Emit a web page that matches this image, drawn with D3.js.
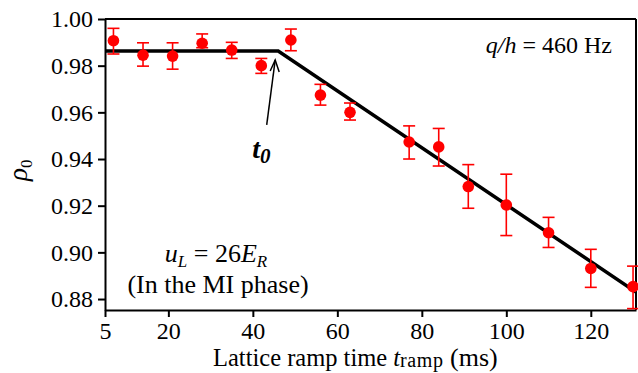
<!DOCTYPE html>
<html>
<head>
<meta charset="utf-8">
<script src="https://cdn.jsdelivr.net/npm/d3@7"></script>
<style>
  body { margin: 0; background: #fff; }
  svg text { font-family: "Liberation Serif", "Times New Roman", serif; fill: #000; }
</style>
</head>
<body>
<svg id="chart" width="638" height="373"></svg>
<script>
// measured points (ramp time in ms, rho_0 with error bars)
const tRamp = [7, 14, 21, 28, 35, 42, 49, 56, 63, 77, 84, 91, 100, 110, 120, 130];
const rho = [0.9907, 0.9845, 0.9841, 0.9896, 0.9867, 0.9800, 0.9910, 0.9674, 0.9600, 0.9473, 0.9452, 0.9282, 0.9203, 0.9084, 0.8931, 0.8853];
const errHi = [0.9960, 0.9898, 0.9898, 0.9936, 0.9900, 0.9831, 0.9957, 0.9720, 0.9640, 0.9542, 0.9531, 0.9376, 0.9335, 0.9150, 0.9013, 0.8941];
const errLo = [0.9850, 0.9798, 0.9785, 0.9877, 0.9831, 0.9767, 0.9864, 0.9631, 0.9567, 0.9400, 0.9370, 0.9189, 0.9072, 0.9021, 0.8850, 0.8759];

// piecewise fit line
const fitT = [5, 46, 130.7];
const fitRho = [0.9863, 0.9863, 0.8830];

const xTicks = [5, 20, 40, 60, 80, 100, 120];
const yTicks = [0.88, 0.90, 0.92, 0.94, 0.96, 0.98, 1.00];

const margin = {top: 19, right: 2, bottom: 63, left: 105},
      width = 638 - margin.left - margin.right,
      height = 373 - margin.top - margin.bottom;

const svg = d3.select("#chart");
const g = svg.append("g").attr("transform", `translate(${margin.left},${margin.top})`);

const x = d3.scaleLinear().domain([5, 130.7]).range([0, width]);
const y = d3.scaleLinear().domain([0.8753, 1.00]).range([height, 0]);

svg.append("defs").append("clipPath").attr("id", "clip")
  .append("rect").attr("width", width).attr("height", height);

// axes
const xAxis = g.append("g").attr("transform", `translate(0,${height})`)
  .call(d3.axisBottom(x).tickValues(xTicks).tickSize(7).tickSizeOuter(0).tickPadding(5).tickFormat(d3.format("d")));
const yAxis = g.append("g")
  .call(d3.axisLeft(y).tickValues(yTicks).tickSize(7).tickSizeOuter(0).tickPadding(5).tickFormat(d3.format(".2f")));

[xAxis, yAxis].forEach(a => {
  a.attr("font-family", null);
  a.selectAll("path, line").attr("stroke", "#000").attr("stroke-width", 2);
  a.selectAll("text").style("font-size", "24px");
});

// top and right frame
g.append("line").attr("x1", 0).attr("x2", width).attr("y1", 0).attr("y2", 0)
  .attr("stroke", "#000").attr("stroke-width", 2);
g.append("line").attr("x1", width).attr("x2", width).attr("y1", 0).attr("y2", height)
  .attr("stroke", "#000").attr("stroke-width", 2);

// fit line
g.append("path")
  .datum(fitT.map((t, i) => [t, fitRho[i]]))
  .attr("clip-path", "url(#clip)")
  .attr("fill", "none").attr("stroke", "#000").attr("stroke-width", 3.5)
  .attr("d", d3.line().x(d => x(d[0])).y(d => y(d[1])));

// error bars + points
const pts = tRamp.map((t, i) => ({t: t, r: rho[i], hi: errHi[i], lo: errLo[i]}));
const eb = g.append("g").attr("stroke", "#ff0000").attr("stroke-width", 1.6);
eb.selectAll(".v").data(pts).enter().append("line")
  .attr("x1", d => x(d.t)).attr("x2", d => x(d.t))
  .attr("y1", d => y(d.hi)).attr("y2", d => y(d.lo));
eb.selectAll(".ch").data(pts).enter().append("line")
  .attr("x1", d => x(d.t) - 6).attr("x2", d => x(d.t) + 6)
  .attr("y1", d => y(d.hi)).attr("y2", d => y(d.hi));
eb.selectAll(".cl").data(pts).enter().append("line")
  .attr("x1", d => x(d.t) - 6).attr("x2", d => x(d.t) + 6)
  .attr("y1", d => y(d.lo)).attr("y2", d => y(d.lo));
g.selectAll("circle").data(pts).enter().append("circle")
  .attr("cx", d => x(d.t)).attr("cy", d => y(d.r)).attr("r", 5.8)
  .attr("fill", "#ff0000");

// t0 arrow
const kx = x(fitT[1]), ky = y(fitRho[1]);
const ax = kx - 3, ay = ky + 9;
const bx = kx - 11.5, by = ky + 74;
g.append("line").attr("x1", bx).attr("y1", by).attr("x2", ax).attr("y2", ay)
  .attr("stroke", "#000").attr("stroke-width", 1.5);
g.append("path")
  .attr("d", `M${ax - 5},${ay + 11} L${ax},${ay} L${ax + 4},${ay + 12}`)
  .attr("fill", "none").attr("stroke", "#000").attr("stroke-width", 1.5);

const t0 = g.append("text").attr("x", kx - 26).attr("y", ky + 107)
  .style("font-size", "28px").style("font-weight", "bold").style("font-style", "italic");
t0.append("tspan").text("t");
t0.append("tspan").attr("dy", 5).style("font-size", "21px").text("0");

// q/h label
const qh = svg.append("text").attr("x", 612).attr("y", 53).attr("text-anchor", "end").style("font-size", "24px");
qh.append("tspan").style("font-style", "italic").text("q/h");
qh.append("tspan").text(" = 460 Hz");

// u_L annotation
const ul = svg.append("text").attr("x", 216).attr("y", 262).attr("text-anchor", "middle").style("font-size", "26px");
ul.append("tspan").style("font-style", "italic").text("u");
ul.append("tspan").style("font-style", "italic").style("font-size", "17px").attr("dy", 5).text("L");
ul.append("tspan").attr("dy", -5).text(" = 26");
ul.append("tspan").style("font-style", "italic").text("E");
ul.append("tspan").style("font-style", "italic").style("font-size", "17px").attr("dy", 5).text("R");
svg.append("text").attr("x", 218).attr("y", 293).attr("text-anchor", "middle")
  .style("font-size", "26px").text("(In the MI phase)");

// x label
const xl = svg.append("text").attr("x", 213).attr("y", 366).style("font-size", "24.5px");
xl.append("tspan").text("Lattice ramp time ");
xl.append("tspan").style("font-style", "italic").text("t");
xl.append("tspan").style("font-size", "20px").style("letter-spacing", "0.6px").attr("dy", 1).text("ramp");
xl.append("tspan").attr("dy", -1).style("font-size", "26px").text(" (ms)");

// y label
const yl = svg.append("text").attr("transform", "translate(27,181) rotate(-90)").style("font-size", "27px");
yl.append("tspan").style("font-style", "italic").text("ρ");
yl.append("tspan").style("font-size", "17px").attr("dy", 5).text("0");
</script>
</body>
</html>
